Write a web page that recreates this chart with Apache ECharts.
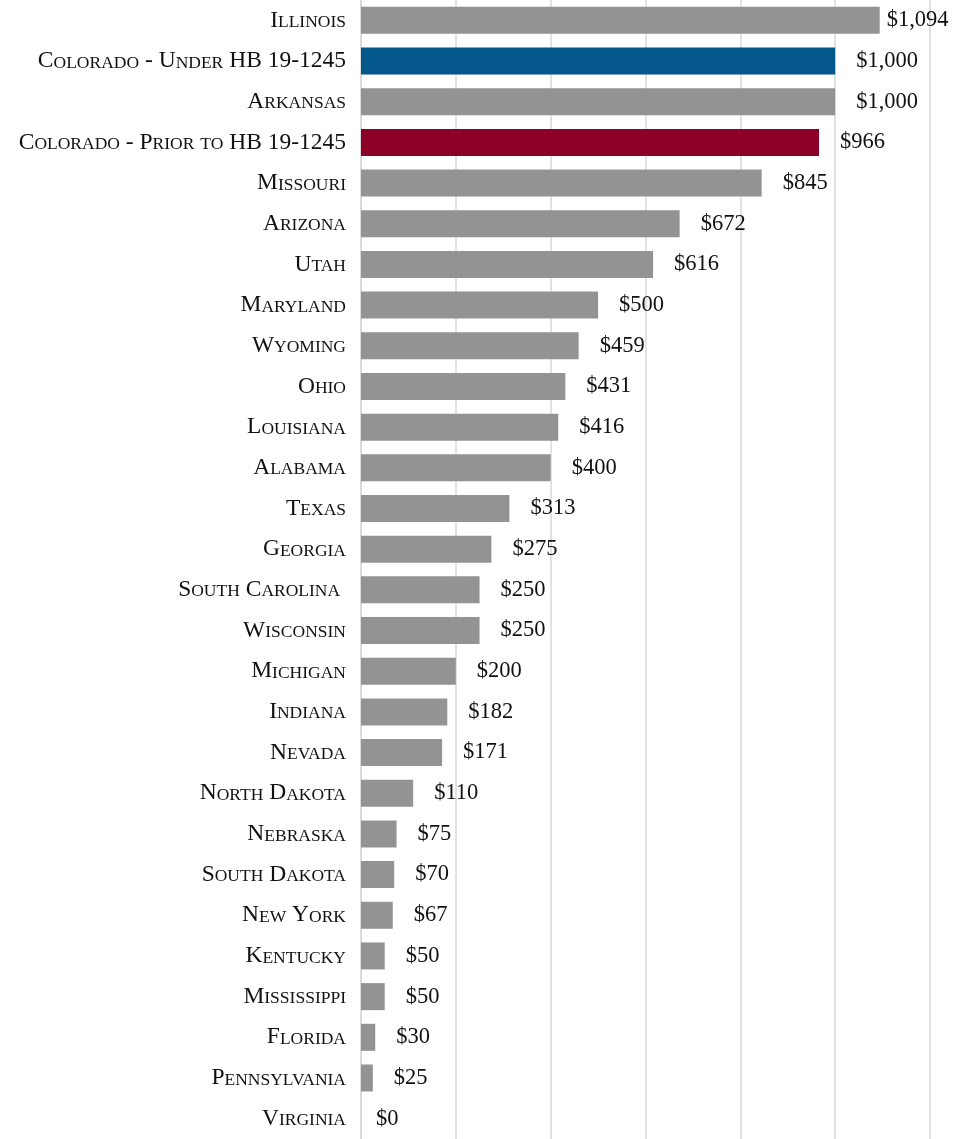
<!DOCTYPE html>
<html>
<head>
<meta charset="utf-8">
<script src="https://cdn.jsdelivr.net/npm/echarts@6/dist/echarts.min.js"></script>
<style>html,body{margin:0;padding:0;background:#fff}#c{width:960px;height:1139px}</style>
</head>
<body>
<div id="c"></div>
<script>
var categories = ["Illinois","Colorado - Under HB 19-1245","Arkansas","Colorado - Prior to HB 19-1245","Missouri","Arizona","Utah","Maryland","Wyoming","Ohio","Louisiana","Alabama","Texas","Georgia","South Carolina ","Wisconsin","Michigan","Indiana","Nevada","North Dakota","Nebraska","South Dakota","New York","Kentucky","Mississippi","Florida","Pennsylvania","Virginia"];
var values = [1094,1000,1000,966,845,672,616,500,459,431,416,400,313,275,250,250,200,182,171,110,75,70,67,50,50,30,25,0];
var highlight = {"Colorado - Under HB 19-1245":"#03578A","Colorado - Prior to HB 19-1245":"#8D0028"};
var labelDistance = {"Illinois":7,"Virginia":15};
var ticks = [0,200,400,600,800,1000,1200];

var FONT = "'Liberation Serif','Times New Roman',serif";
function smallCaps(s){
  var out = '', cur = '', curType = null;
  function flush(){ if(cur){ out += '{' + curType + '|' + cur + '}'; cur=''; } }
  for (var i=0;i<s.length;i++){
    var ch = s[i];
    var t = (ch >= 'a' && ch <= 'z') ? 's' : 'b';
    if (t !== curType){ flush(); curType = t; }
    cur += (t === 's') ? ch.toUpperCase() : ch;
  }
  flush();
  return out;
}

var data = categories.map(function(c,i){
  var item = {value: values[i], itemStyle:{color: highlight[c] || '#939393'}};
  if (labelDistance[c] !== undefined) item.label = {distance: labelDistance[c]};
  return item;
});

var chart = echarts.init(document.getElementById('c'), null, {renderer:'canvas'});
chart.setOption({
  animation:false,
  backgroundColor:'#ffffff',
  grid:{left:361,right:30,top:0,bottom:0,containLabel:false},
  xAxis:{type:'value',min:ticks[0],max:ticks[ticks.length-1],interval:200,
    axisLabel:{show:false},axisLine:{show:false},axisTick:{show:false},
    splitLine:{show:true,lineStyle:{color:'#d9d9d9',width:1.5}}},
  yAxis:{type:'category',data:categories,inverse:true,
    axisLine:{show:true,lineStyle:{color:'#d9d9d9',width:1.5}},axisTick:{show:false},
    axisLabel:{margin:15,formatter:function(v){return smallCaps(v);},
      rich:{
        b:{fontFamily:FONT,fontSize:23.5,color:'#111111',verticalAlign:'bottom'},
        s:{fontFamily:FONT,fontSize:17.5,color:'#111111',verticalAlign:'bottom',padding:[0,0,1,0]}
      }}},
  series:[{type:'bar',data:data,barWidth:27,
    label:{show:true,position:'right',distance:21,fontFamily:FONT,fontSize:22.5,color:'#111111',
      formatter:function(p){return '$'+p.value.toLocaleString('en-US');}}}]
});
</script>
</body>
</html>
